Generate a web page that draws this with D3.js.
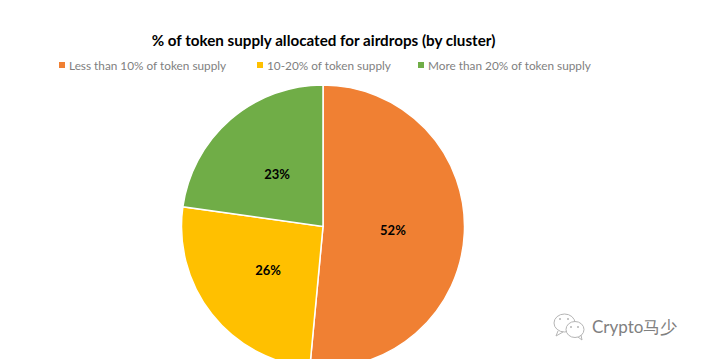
<!DOCTYPE html>
<html>
<head>
<meta charset="utf-8">
<script src="https://cdn.jsdelivr.net/npm/d3@7"></script>
<style>
  html, body { margin:0; padding:0; background:#fff; overflow:hidden; }
  svg { display:block; }
  text { font-family:Lato, "Open Sans", sans-serif; }
</style>
</head>
<body>
<svg></svg>
<script>
var categories = ["Less than 10% of token supply","10-20% of token supply","More than 20% of token supply"];
var shares = [52,26,23];
var sliceColors = ["#f08033","#ffc000","#70ad47"];
var legendX = [59,257,418];

var screen = { width:701, height:359 };

var svg = d3.select("svg")
            .attr("width",screen.width)
            .attr("height",screen.height);

svg.append("text")
   .attr("x",323.5)
   .attr("y",46)
   .attr("text-anchor","middle")
   .attr("font-size",15.2)
   .attr("font-weight",700)
   .attr("fill","#000")
   .text("% of token supply allocated for airdrops (by cluster)");

// legend
var legend = svg.append("g").classed("legend",true);

var legendLines = legend.selectAll("g")
   .data(categories)
   .enter()
   .append("g")
   .attr("transform",function(d,i){return "translate("+legendX[i]+",62)";});

legendLines.append("rect")
   .attr("width",6)
   .attr("height",6)
   .attr("fill",function(d,i){return sliceColors[i];});

legendLines.append("text")
   .attr("x",10)
   .attr("y",7.5)
   .attr("font-size",11.8)
   .attr("fill","#7f7f7f")
   .text(function(d){return d;});

// pie
var pie = d3.pie().sort(null)(shares);
var arc = d3.arc().innerRadius(0).outerRadius(141.5);
var labelArc = d3.arc().innerRadius(70).outerRadius(70);

var plot = svg.append("g")
   .classed("plot",true)
   .attr("transform","translate(323,226.5)");

plot.selectAll("path")
   .data(pie)
   .enter()
   .append("path")
   .attr("d",arc)
   .attr("fill",function(d,i){return sliceColors[i];})
   .attr("stroke","#fff")
   .attr("stroke-width",1.5);

plot.selectAll("text")
   .data(pie)
   .enter()
   .append("text")
   .attr("transform",function(d){return "translate("+labelArc.centroid(d)+")";})
   .attr("dy","0.4em")
   .attr("text-anchor","middle")
   .attr("font-size",13)
   .attr("font-weight",700)
   .attr("fill","#000")
   .text(function(d){return d.data+"%";});

// watermark
var mark = svg.append("g").classed("watermark",true).attr("fill","none").attr("stroke","#b5b5b5");
mark.append("ellipse").attr("cx",564.5).attr("cy",323).attr("rx",10.5).attr("ry",9);
mark.append("path").attr("d","M558 331 L556 336 L563 332");
mark.append("ellipse").attr("cx",575).attr("cy",329.5).attr("rx",9).attr("ry",8).attr("fill","#fff");
mark.append("path").attr("d","M578 337 L582 340 L581 335");
mark.selectAll("circle")
   .data([[560,319],[568,319],[571,327],[578,327]])
   .enter()
   .append("circle")
   .attr("cx",function(d){return d[0];})
   .attr("cy",function(d){return d[1];})
   .attr("r",1)
   .attr("fill","#b5b5b5")
   .attr("stroke","none");

svg.append("text")
   .attr("x",592)
   .attr("y",333)
   .attr("font-family","'Noto Sans CJK SC'")
   .attr("font-size",17)
   .attr("fill","#808080")
   .text("Crypto马少");
</script>
</body>
</html>
